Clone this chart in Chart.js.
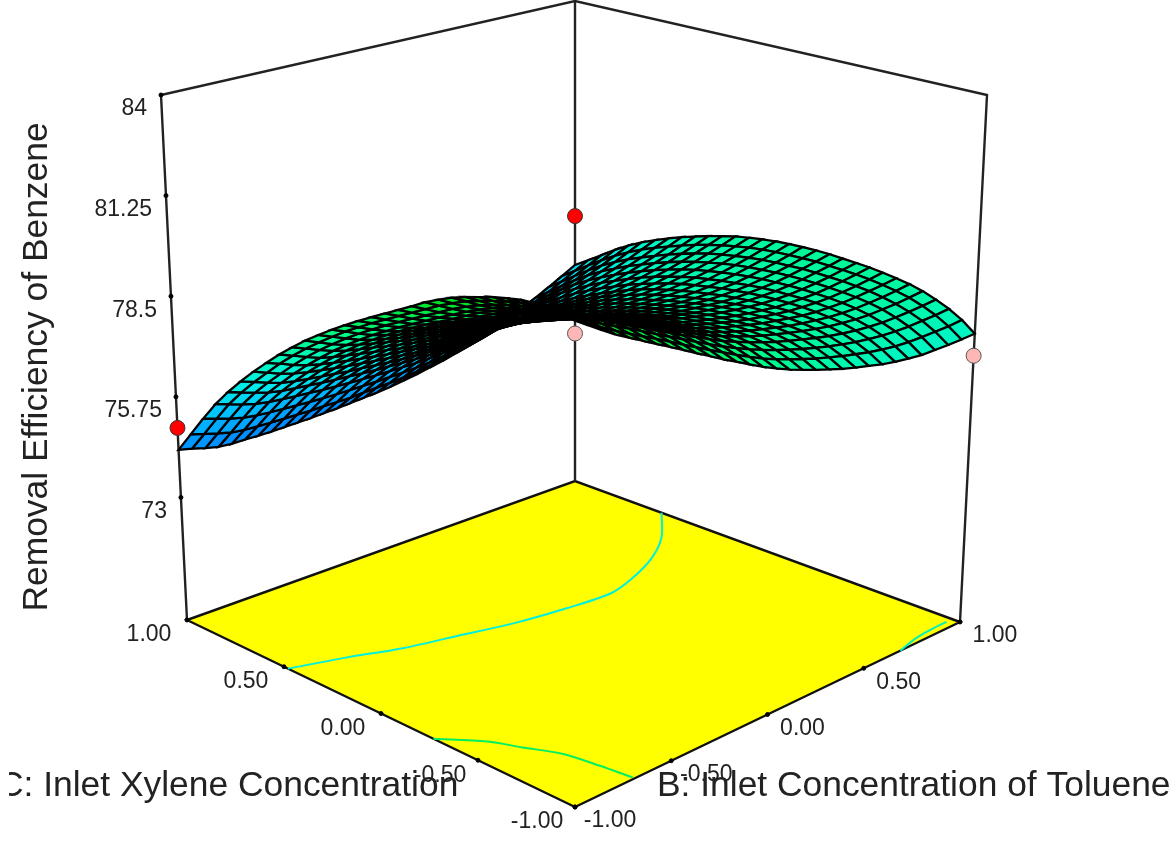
<!DOCTYPE html>
<html>
<head>
<meta charset="utf-8">
<style>
html, body { margin: 0; padding: 0; background: #fff; }
canvas { display: block; filter: blur(0.5px); }
</style>
<script src="https://cdn.jsdelivr.net/npm/chart.js@4"></script>
</head>
<body>
<canvas id="c" width="1176" height="846"></canvas>
<script>
// tick values and labels
const codedTicks = [-1, -0.5, 0, 0.5, 1];
const codedLabels = ['-1.00', '-0.50', '0.00', '0.50', '1.00'];
const zTicks = [73, 75.75, 78.5, 81.25, 84];
const zFloor = 69.65;
const zTop = 84;

// removal efficiency: one row per C step (-1 to 1), one column per B step (-1 to 1)
const surfaceRows = [
[81.96,81.71,81.46,81.22,81.01,80.80,80.59,80.38,80.17,79.95,79.74,79.52,79.32,79.11,78.91,78.73,78.56,78.41,78.27,78.14,78.01,77.90,77.80,77.70,77.62,77.56,77.51,77.50,77.49,77.49,77.50],
[81.99,81.75,81.50,81.27,81.06,80.86,80.66,80.46,80.26,80.05,79.84,79.64,79.44,79.24,79.05,78.87,78.71,78.57,78.44,78.31,78.20,78.09,78.00,77.91,77.84,77.78,77.75,77.74,77.74,77.74,77.77],
[82.03,81.78,81.54,81.32,81.11,80.92,80.73,80.53,80.33,80.13,79.93,79.73,79.53,79.34,79.16,78.99,78.84,78.70,78.57,78.45,78.34,78.24,78.15,78.07,78.01,77.96,77.93,77.92,77.93,77.94,77.97],
[82.03,81.79,81.55,81.33,81.13,80.94,80.75,80.56,80.37,80.17,79.98,79.78,79.60,79.41,79.23,79.07,78.92,78.79,78.66,78.55,78.45,78.35,78.26,78.19,78.13,78.09,78.06,78.06,78.07,78.09,78.12],
[81.98,81.74,81.51,81.29,81.10,80.91,80.73,80.54,80.36,80.17,79.98,79.79,79.61,79.43,79.26,79.10,78.96,78.83,78.71,78.61,78.51,78.42,78.34,78.27,78.22,78.18,78.16,78.17,78.18,78.21,78.25],
[81.89,81.66,81.43,81.22,81.03,80.85,80.67,80.49,80.31,80.13,79.94,79.77,79.59,79.42,79.25,79.10,78.96,78.84,78.73,78.63,78.54,78.45,78.38,78.32,78.27,78.24,78.23,78.24,78.26,78.29,78.34],
[81.79,81.56,81.33,81.12,80.94,80.77,80.59,80.42,80.24,80.07,79.89,79.72,79.55,79.39,79.23,79.08,78.95,78.83,78.73,78.63,78.54,78.47,78.40,78.34,78.30,78.28,78.27,78.29,78.32,78.35,78.40],
[81.66,81.44,81.22,81.01,80.83,80.66,80.50,80.33,80.16,79.99,79.82,79.65,79.49,79.34,79.18,79.04,78.92,78.81,78.71,78.61,78.53,78.46,78.40,78.35,78.32,78.30,78.30,78.32,78.35,78.40,78.45],
[81.53,81.31,81.09,80.89,80.71,80.55,80.39,80.23,80.07,79.90,79.74,79.58,79.42,79.27,79.13,78.99,78.87,78.77,78.67,78.59,78.51,78.44,78.39,78.34,78.32,78.31,78.31,78.34,78.38,78.43,78.49],
[81.38,81.17,80.95,80.76,80.59,80.43,80.27,80.12,79.96,79.80,79.64,79.49,79.34,79.20,79.06,78.93,78.82,78.72,78.63,78.55,78.48,78.42,78.37,78.33,78.31,78.30,78.32,78.35,78.39,78.45,78.51],
[81.20,80.99,80.78,80.59,80.43,80.28,80.13,79.98,79.83,79.68,79.53,79.38,79.24,79.10,78.97,78.85,78.74,78.65,78.57,78.49,78.43,78.38,78.33,78.30,78.29,78.29,78.31,78.35,78.40,78.46,78.53],
[81.00,80.79,80.59,80.40,80.25,80.10,79.96,79.82,79.68,79.53,79.39,79.25,79.12,78.99,78.86,78.75,78.65,78.56,78.49,78.42,78.37,78.32,78.28,78.26,78.26,78.27,78.29,78.34,78.40,78.47,78.55],
[80.76,80.57,80.37,80.19,80.04,79.90,79.77,79.64,79.50,79.37,79.23,79.10,78.98,78.86,78.74,78.63,78.54,78.46,78.40,78.34,78.29,78.25,78.22,78.21,78.21,78.23,78.27,78.32,78.38,78.46,78.55],
[80.53,80.34,80.15,79.98,79.83,79.70,79.58,79.45,79.32,79.20,79.07,78.95,78.83,78.72,78.61,78.51,78.43,78.36,78.30,78.25,78.20,78.17,78.15,78.14,78.16,78.18,78.23,78.29,78.36,78.44,78.54],
[80.30,80.12,79.93,79.76,79.62,79.50,79.38,79.26,79.14,79.02,78.91,78.79,78.68,78.58,78.48,78.39,78.31,78.24,78.19,78.15,78.11,78.09,78.07,78.07,78.09,78.13,78.18,78.25,78.33,78.42,78.52],
[80.07,79.89,79.71,79.54,79.41,79.30,79.18,79.07,78.96,78.85,78.74,78.63,78.53,78.43,78.34,78.25,78.18,78.12,78.08,78.04,78.01,77.99,77.99,77.99,78.02,78.06,78.12,78.20,78.28,78.38,78.49],
[79.83,79.66,79.48,79.32,79.19,79.08,78.98,78.87,78.76,78.66,78.56,78.46,78.36,78.27,78.19,78.11,78.04,77.99,77.95,77.92,77.90,77.89,77.89,77.90,77.94,77.99,78.05,78.13,78.22,78.33,78.44],
[79.58,79.41,79.24,79.08,78.96,78.86,78.76,78.66,78.56,78.46,78.37,78.27,78.19,78.10,78.02,77.95,77.90,77.85,77.82,77.79,77.78,77.77,77.78,77.80,77.84,77.90,77.97,78.05,78.15,78.26,78.38],
[79.32,79.16,78.99,78.84,78.72,78.62,78.53,78.44,78.34,78.25,78.16,78.08,78.00,77.92,77.85,77.78,77.73,77.69,77.66,77.65,77.64,77.64,77.65,77.68,77.72,77.79,77.87,77.96,78.07,78.18,78.31],
[79.04,78.88,78.72,78.57,78.46,78.37,78.28,78.20,78.11,78.02,77.94,77.86,77.79,77.72,77.66,77.60,77.55,77.52,77.50,77.48,77.48,77.49,77.51,77.54,77.59,77.67,77.75,77.85,77.96,78.08,78.21],
[78.75,78.59,78.43,78.29,78.19,78.10,78.02,77.94,77.86,77.78,77.71,77.63,77.57,77.50,77.45,77.39,77.36,77.33,77.31,77.30,77.31,77.32,77.35,77.38,77.45,77.53,77.62,77.72,77.84,77.97,78.10],
[78.43,78.28,78.13,77.99,77.89,77.81,77.74,77.66,77.59,77.52,77.45,77.38,77.32,77.27,77.22,77.17,77.14,77.12,77.11,77.11,77.12,77.14,77.17,77.21,77.28,77.37,77.47,77.58,77.70,77.84,77.98],
[78.09,77.95,77.80,77.66,77.57,77.50,77.43,77.36,77.30,77.23,77.17,77.11,77.06,77.01,76.97,76.93,76.91,76.89,76.89,76.90,76.91,76.94,76.98,77.03,77.11,77.20,77.31,77.42,77.55,77.70,77.85],
[77.72,77.59,77.44,77.32,77.23,77.16,77.10,77.04,76.98,76.93,76.88,76.83,76.78,76.74,76.71,76.68,76.66,76.65,76.66,76.67,76.69,76.73,76.77,76.83,76.92,77.02,77.13,77.26,77.39,77.55,77.70],
[77.34,77.20,77.06,76.95,76.87,76.81,76.75,76.70,76.65,76.60,76.56,76.52,76.48,76.45,76.42,76.40,76.39,76.39,76.40,76.42,76.46,76.50,76.55,76.62,76.71,76.82,76.94,77.07,77.22,77.38,77.54],
[76.93,76.80,76.67,76.55,76.48,76.43,76.38,76.34,76.29,76.26,76.22,76.19,76.16,76.14,76.12,76.10,76.10,76.11,76.13,76.16,76.20,76.25,76.30,76.38,76.48,76.60,76.73,76.87,77.02,77.19,77.36],
[76.49,76.37,76.25,76.14,76.07,76.03,75.99,75.95,75.92,75.89,75.86,75.83,75.82,75.80,75.79,75.78,75.79,75.80,75.83,75.86,75.91,75.97,76.03,76.12,76.23,76.36,76.49,76.64,76.80,76.97,77.15],
[76.01,75.90,75.78,75.68,75.62,75.58,75.55,75.52,75.49,75.47,75.45,75.44,75.43,75.42,75.42,75.42,75.43,75.46,75.49,75.53,75.59,75.65,75.73,75.82,75.94,76.07,76.22,76.37,76.54,76.72,76.91],
[75.46,75.35,75.24,75.15,75.10,75.07,75.05,75.03,75.01,75.00,74.99,74.99,74.99,74.99,75.00,75.01,75.03,75.06,75.11,75.16,75.23,75.30,75.38,75.49,75.62,75.76,75.92,76.08,76.26,76.45,76.64],
[74.88,74.78,74.68,74.59,74.55,74.53,74.52,74.51,74.51,74.50,74.51,74.51,74.51,74.54,74.56,74.58,74.61,74.66,74.71,74.77,74.85,74.93,75.03,75.14,75.28,75.44,75.61,75.78,75.97,76.17,76.37],
[74.30,74.22,74.12,74.04,74.01,74.01,74.00,74.00,74.01,74.02,74.03,74.05,74.07,74.10,74.13,74.16,74.20,74.26,74.32,74.40,74.48,74.58,74.68,74.80,74.95,75.12,75.30,75.48,75.68,75.89,76.11]
];

// design points as [B, C, response]
const pointsAbove = [[-1, 1, 74.9], [1, 1, 77.57]];
const pointsBelow = [[1, 1, 74.06], [1, -1, 76.9]];

// floor contours as [B, C]
const contourMain = [[-1,0.48],[-0.77,0.41],[-0.55,0.33],[-0.32,0.27],[-0.1,0.21],[0.13,0.17],[0.34,0.15],[0.49,0.19],[0.67,0.27],[0.83,0.38],[1,0.55]];
const contourHigh = [[-1,-0.27],[-0.87,-0.42],[-0.81,-0.54],[-0.74,-0.68],[-0.71,-0.84],[-0.69,-0.99]];
const contourCorner = [[0.69,-1],[0.8,-0.97],[0.9,-0.96],[0.97,-0.96]];

// box corners on the page, in order (B-,C-) (B+,C-) (B-,C+) (B+,C+)
const floorBox = [[575,807],[960,622],[187,620],[575,481]];
const topBox = [[575,240],[987,95],[161,95],[575,1]];

// colour ramp for the mesh
const rampZ = [73.5, 75.5, 76.5, 77.5, 79, 81, 82];
const rampRGB = [[0,112,255],[0,190,255],[0,235,235],[0,245,200],[0,250,130],[0,225,40],[0,210,0]];

function corner(box, u, v) {
    return [0, 1].map(k => (1-u)*(1-v)*box[0][k] + u*(1-v)*box[1][k] + (1-u)*v*box[2][k] + u*v*box[3][k]);
}

// coded factors + response -> x/y values on the chart's linear scales
function project(b, c, z) {
    const u = (b + 1) / 2, v = (c + 1) / 2;
    const t = (z - zFloor) / (zTop - zFloor);
    const f = corner(floorBox, u, v), e = corner(topBox, u, v);
    return { x: f[0] + t * (e[0] - f[0]), y: f[1] + t * (e[1] - f[1]) };
}

function meshColor(z) {
    let i = 0;
    while (i < rampZ.length - 2 && z > rampZ[i + 1]) i++;
    const q = Math.max(0, Math.min(1, (z - rampZ[i]) / (rampZ[i + 1] - rampZ[i])));
    return 'rgb(' + rampRGB[i].map((v, k) => Math.round(v + q * (rampRGB[i + 1][k] - v))).join(',') + ')';
}

const lineSet = (data, color, width, fill, tension) => ({
    data, showLine: true, borderColor: color, borderWidth: width, pointRadius: 0,
    fill: fill ? 'shape' : false, backgroundColor: fill || undefined, tension: tension || 0
});
const dotSet = (data, color, edge, radius) => ({
    data, showLine: false, pointRadius: radius, pointBackgroundColor: color, pointBorderColor: edge, pointBorderWidth: 1
});
const atFloor = pair => project(pair[0], pair[1], zFloor);

// dataset 0 is painted last, so the list runs from the front of the picture to the back
const datasets = [];
datasets.push(dotSet(pointsAbove.map(p => project(p[0], p[1], p[2])), '#ff0000', '#333', 7.5));

const n = surfaceRows.length;
const step = k => -1 + 2 * k / (n - 1);
const cells = [];
for (let j = 0; j < n - 1; j++) for (let i = 0; i < n - 1; i++) cells.push([i, j]);
cells.sort((a, b) => (a[0] + a[1]) - (b[0] + b[1]));
cells.forEach(([i, j]) => {
    const r = surfaceRows;
    const avg = (r[j][i] + r[j][i+1] + r[j+1][i] + r[j+1][i+1]) / 4;
    const quad = [
        project(step(i), step(j), r[j][i]),
        project(step(i+1), step(j), r[j][i+1]),
        project(step(i+1), step(j+1), r[j+1][i+1]),
        project(step(i), step(j+1), r[j+1][i]),
        project(step(i), step(j), r[j][i])
    ];
    datasets.push(lineSet(quad, '#000', 2.3, meshColor(avg)));
});

datasets.push(dotSet(pointsBelow.map(p => project(p[0], p[1], p[2])), '#ffb6b6', '#555', 7.5));
datasets.push(dotSet([
    ...codedTicks.map(b => atFloor([b, -1])),
    ...codedTicks.map(c => atFloor([-1, c])),
    ...zTicks.map(z => project(-1, 1, z))
], '#000', '#000', 2));

datasets.push(lineSet(contourMain.map(atFloor), '#00f0e0', 2, null, 0.3));
datasets.push(lineSet(contourHigh.map(atFloor), '#00f060', 2, null, 0.3));
datasets.push(lineSet(contourCorner.map(atFloor), '#00f0c0', 2, null, 0.3));

datasets.push(lineSet([project(-1,1,zFloor), project(-1,1,zTop), project(1,1,zTop), project(1,-1,zTop), project(1,-1,zFloor)], '#222', 2.4));
datasets.push(lineSet([project(1,1,zFloor), project(1,1,zTop)], '#222', 2.4));
datasets.push(lineSet([[-1,-1],[1,-1],[1,1],[-1,1],[-1,-1]].map(atFloor), '#111', 2.4, '#ffff00'));

// tick labels and axis titles
const textPlugin = {
    id: 'boxText',
    afterDraw(chart) {
        const ctx = chart.ctx, sx = chart.scales.x, sy = chart.scales.y;
        const put = (p, dx, dy, text, align) => {
            ctx.textAlign = align;
            ctx.fillText(text, sx.getPixelForValue(p.x) + dx, sy.getPixelForValue(p.y) + dy);
        };
        ctx.save();
        ctx.fillStyle = '#222';
        ctx.textBaseline = 'middle';
        ctx.font = '23px "Liberation Sans"';
        codedTicks.forEach((v, i) => {
            put(atFloor([v, -1]), 35, 14, codedLabels[i], 'center');
            put(atFloor([-1, v]), -38, 15, codedLabels[i], 'center');
        });
        zTicks.forEach(z => put(project(-1, 1, z), -14, 14, String(z), 'right'));

        ctx.font = '35.4px "Liberation Sans"';
        ctx.textAlign = 'left';
        ctx.save();
        ctx.beginPath();
        ctx.rect(9, 740, 500, 100);
        ctx.clip(); // the first letter is cut by the page edge in the original
        ctx.fillText('C: Inlet Xylene Concentration', -2, 786);
        ctx.restore();
        ctx.fillText('B: Inlet Concentration of Toluene', 657, 786);
        ctx.translate(37, 367);
        ctx.rotate(-Math.PI / 2);
        ctx.textAlign = 'center';
        ctx.fillText('Removal Efficiency of Benzene', 0, 0);
        ctx.restore();
    }
};

new Chart(document.getElementById('c'), {
    type: 'scatter',
    data: { datasets },
    plugins: [textPlugin],
    options: {
        responsive: false,
        animation: false,
        events: [],
        layout: { padding: 0, autoPadding: false },
        plugins: { legend: { display: false }, tooltip: { enabled: false } },
        scales: {
            x: { type: 'linear', min: 0, max: 1176, display: false },
            y: { type: 'linear', min: 0, max: 846, reverse: true, display: false }
        }
    }
});
</script>
</body>
</html>
